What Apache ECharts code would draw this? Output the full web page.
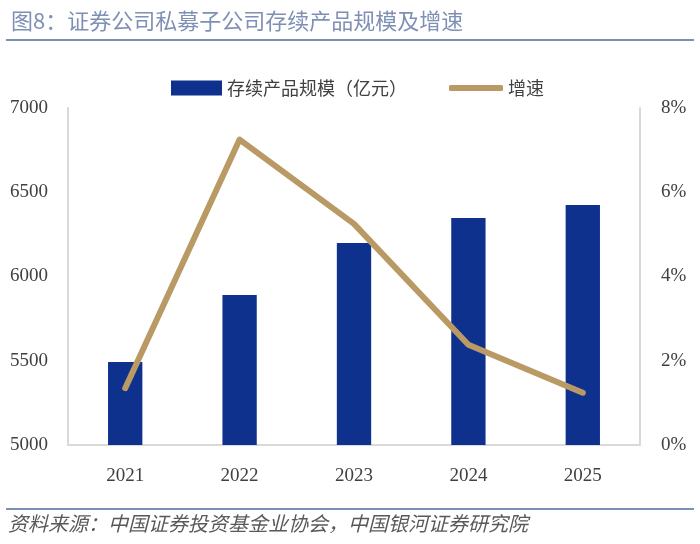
<!DOCTYPE html>
<html><head><meta charset="utf-8">
<script src="https://cdn.jsdelivr.net/npm/echarts@6/dist/echarts.min.js"></script>
<style>html,body{margin:0;padding:0;background:#fff}#c{width:700px;height:544px}</style>
</head><body><div id="c"></div>
<script>
const categories = ['2021','2022','2023','2024','2025'];
const scaleValues = [5492, 5890, 6199, 6347, 6425];
const growthValues = [1.35, 7.25, 5.25, 2.38, 1.24];
const leftTicks = [5000, 7000, 500];
const rightTicks = [0, 8, 2];

const serif = "'Liberation Serif','DejaVu Serif',serif";
const cjk = "'Noto Sans CJK SC','Liberation Serif',sans-serif";
const chart = echarts.init(document.getElementById('c'));
chart.setOption({
  animation: false,
  title: {
    text: '图8：证券公司私募子公司存续产品规模及增速',
    left: 6, top: 5,
    textStyle: {fontSize: 22, fontWeight: 'normal', color: '#7f90b5', fontFamily: cjk}
  },
  graphic: [
    {type: 'rect', shape: {x: 6, y: 39, width: 688, height: 2}, style: {fill: '#7d90b2'}},
    {type: 'rect', shape: {x: 6, y: 508, width: 688, height: 2}, style: {fill: '#7d90b2'}},
    {type: 'text', left: 8, top: 513, style: {text: '资料来源：中国证券投资基金业协会，中国银河证券研究院', font: 'italic 20px ' + cjk, fill: '#595959'}}
  ],
  legend: [
    {data: [{name: '存续产品规模（亿元）', icon: 'rect'}], left: 166, top: 74, itemWidth: 51, itemHeight: 15, itemGap: 5,
     textStyle: {fontSize: 18, color: '#404040', fontFamily: cjk}},
    {data: [{name: '增速', icon: 'roundRect'}], left: 444, top: 74, itemWidth: 54, itemHeight: 6, itemGap: 4,
     textStyle: {fontSize: 18, color: '#404040', fontFamily: cjk}}
  ],
  grid: {left: 68, right: 60, top: 108, bottom: 99},
  xAxis: {
    type: 'category', data: categories,
    axisLine: {lineStyle: {color: '#d9d9d9', width: 2}},
    axisTick: {show: false},
    axisLabel: {fontSize: 19, color: '#404040', fontFamily: serif, margin: 22}
  },
  yAxis: [
    {type: 'value', min: leftTicks[0], max: leftTicks[1], interval: leftTicks[2],
     axisLine: {show: true, lineStyle: {color: '#d9d9d9', width: 2}},
     axisTick: {show: false}, splitLine: {show: false},
     axisLabel: {fontSize: 19, color: '#404040', fontFamily: serif, margin: 20, formatter: v => String(v)}},
    {type: 'value', min: rightTicks[0], max: rightTicks[1], interval: rightTicks[2], position: 'right',
     axisLine: {show: true, lineStyle: {color: '#d9d9d9', width: 2}},
     axisTick: {show: false}, splitLine: {show: false},
     axisLabel: {fontSize: 19, color: '#404040', fontFamily: serif, margin: 21, formatter: '{value}%'}}
  ],
  series: [
    {name: '存续产品规模（亿元）', type: 'bar', data: scaleValues, barWidth: '30%',
     itemStyle: {color: '#0e318e'}},
    {name: '增速', type: 'line', yAxisIndex: 1, data: growthValues, symbol: 'none',
     lineStyle: {color: '#b99a64', width: 6, cap: 'round', join: 'round'}, itemStyle: {color: '#b99a64'}}
  ]
});
</script></body></html>
